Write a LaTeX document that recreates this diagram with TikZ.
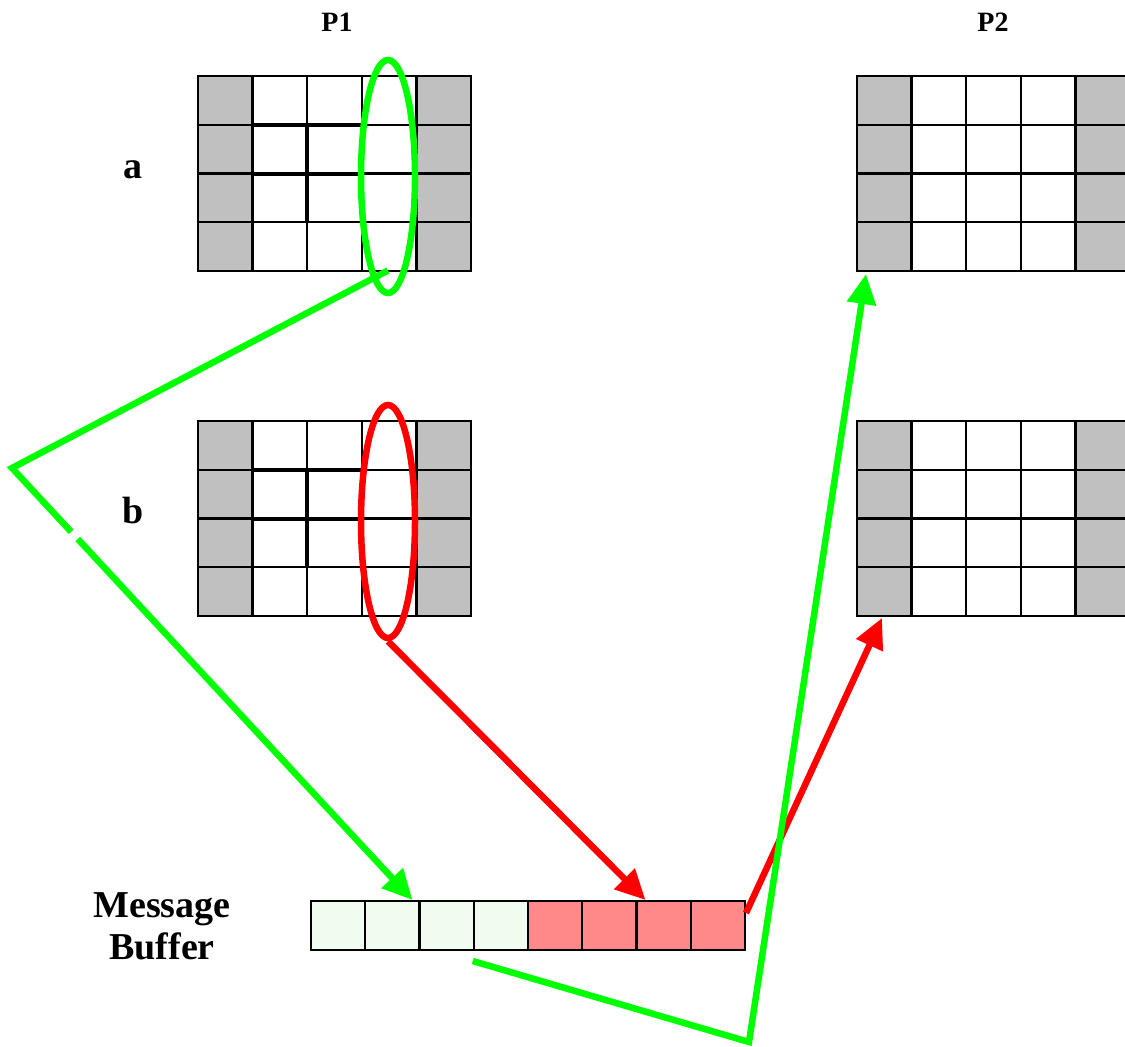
\documentclass[tikz,border=0pt]{standalone}
\usepackage{fontspec}
\setmainfont{Liberation Serif}
\usetikzlibrary{shapes.geometric,arrows.meta,calc}

\definecolor{ghost}{RGB}{192,192,192}
\definecolor{lgreen}{RGB}{0,255,0}
\definecolor{pgreen}{RGB}{240,252,240}
\definecolor{pred}{RGB}{255,136,136}

\tikzset{
  x=1pt, y=-1pt,
  gridline/.style={line width=2.4pt, black},
  boldline/.style={line width=4pt, black},
  halo/.style={ellipse, line width=6.5pt, minimum width=54pt, minimum height=233pt, inner sep=0pt},
  link/.style={line width=6.5pt, -{Triangle[length=30pt,width=28pt]}},
  bufcell/.style={draw, line width=2.4pt, minimum width=54.25pt, minimum height=49pt, inner sep=0pt, outer sep=0pt},
  title/.style={font=\fontsize{28}{32}\selectfont\bfseries},
  tag/.style={font=\fontsize{38}{42}\selectfont\bfseries, align=center},
}

% 5x4 process block: grey halo columns left and right
\newcommand\procblock[2]{%
  \begin{scope}[shift={(#1,#2)}]
    \fill[white] (0,0) rectangle (273,195);
    \fill[ghost] (0,0) rectangle (54.6,195);
    \fill[ghost] (218.4,0) rectangle (273,195);
    \foreach \i in {1,...,4} \draw[gridline] (\i*54.6,0) -- (\i*54.6,195);
    \foreach \j in {1,2,3} \draw[gridline] (0,\j*48.75) -- (273,\j*48.75);
    \draw[gridline] (0,0) rectangle (273,195);
  \end{scope}}

% inner 2x2 sub-block outline
\newcommand\innerblock[2]{%
  \begin{scope}[shift={(#1,#2)}]
    \draw[boldline] (54.6,48.75) -- (163.8,48.75);
    \draw[boldline] (54.6,97.5) -- (163.8,97.5);
    \draw[boldline] (109.2,48.75) -- (109.2,146.25);
  \end{scope}}

\begin{document}
\begin{tikzpicture}
  \useasboundingbox (0,0) rectangle (1125,1047);
  \clip (0,0) rectangle (1125,1047);

  % process blocks
  \procblock{198}{76}
  \innerblock{198}{76}
  \procblock{198}{421}
  \innerblock{198}{421}
  \procblock{857}{76}
  \procblock{857}{421}

  % labels
  \node[title] (p1) at (337,22) {P1};
  \node[title] (p2) at (993,22) {P2};
  \node[tag] (la) at (133,170) {a};
  \node[tag] (lb) at (133,510) {b};
  \node[tag] (lbuf) at (162,926) {Message\\Buffer};

  % message buffer
  \foreach \k in {1,...,4}
    \node[bufcell, fill=pgreen] (m\k) at (311+54.25*\k-27.125, 925.5) {};
  \foreach \k in {5,...,8}
    \node[bufcell, fill=pred] (m\k) at (311+54.25*\k-27.125, 925.5) {};

  % selected halo columns
  \node[halo, draw=lgreen] (ga) at (388,176.5) {};
  \node[halo, draw=red] (rb) at (388,521.5) {};

  % connector end points
  \coordinate (gs) at ($(ga.center)+(0,94)$);
  \coordinate (gk) at (12,468);
  \coordinate (gt) at ($(m2.north east)+(-7,-1)$);
  \coordinate (rt) at ($(m7.north west)+(9,-1)$);
  \coordinate (r2s) at ($(m8.north east)+(1,12)$);
  \coordinate (r2t) at (882,618);
  \coordinate (g2s) at ($(m4.south west)+(-1,11)$);
  \coordinate (g2k) at (749,1042);
  \coordinate (g2t) at (866,274);

  % green transfer: a halo -> buffer -> P2 a
  \draw[link, lgreen] (gs) -- (gk) -- (gt);
  \path (gk) -- (gt) coordinate[pos=0.148] (gg1) coordinate[pos=0.164] (gg2);
  \draw[white, line width=9pt] (gg1) -- (gg2);
  % red transfer: b halo -> buffer -> P2 b
  \draw[link, red] (rb.south) -- (rt);
  \draw[link, red] (r2s) -- (r2t);
  \draw[link, lgreen] (g2s) -- (g2k) -- (g2t);
\end{tikzpicture}
\end{document}
